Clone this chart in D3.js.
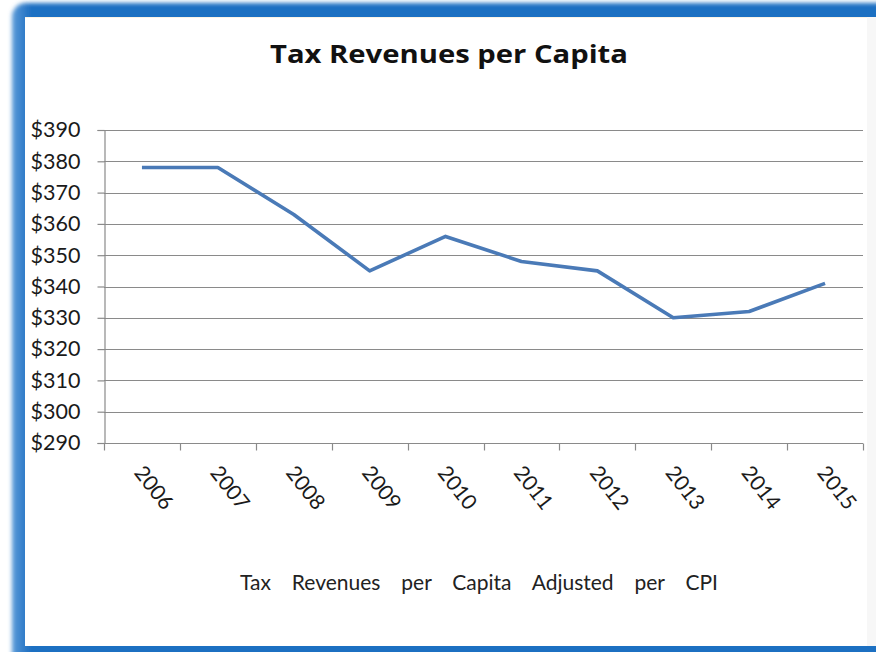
<!DOCTYPE html>
<html>
<head>
<meta charset="utf-8">
<script src="https://cdn.jsdelivr.net/npm/d3@7"></script>
<style>
  html, body { margin: 0; padding: 0; background: #ffffff; }
  svg { display: block; }
  text { font-family: Lato, "Open Sans", sans-serif; fill: #1a1a1a; }
</style>
</head>
<body>
<svg id="chart" width="876" height="652"></svg>
<script>
// Tax revenues per capita (CPI-adjusted), 2006-2015
const years = ["2006", "2007", "2008", "2009", "2010", "2011", "2012", "2013", "2014", "2015"];
const revenues = [378, 378, 363, 345, 356, 348, 345, 330, 332, 341];
const yTicks = [290, 300, 310, 320, 330, 340, 350, 360, 370, 380, 390];
const chartTitle = "Tax Revenues per Capita";
const axisTitle = "Tax Revenues per Capita Adjusted per CPI";

const W = 876, H = 652;
const svg = d3.select("#chart");
const defs = svg.append("defs");

// Soft-edged blue frame
const blur = defs.append("filter").attr("id", "soft")
  .attr("x", "-5%").attr("y", "-5%").attr("width", "110%").attr("height", "110%");
blur.append("feGaussianBlur").attr("stdDeviation", 2.2);

const gradL = defs.append("linearGradient").attr("id", "frameGrad")
  .attr("x1", "0").attr("y1", "0").attr("x2", "1").attr("y2", "0");
gradL.append("stop").attr("offset", "0").attr("stop-color", "#5a9ad8");
gradL.append("stop").attr("offset", "0.02").attr("stop-color", "#1f6fc2");
gradL.append("stop").attr("offset", "1").attr("stop-color", "#1f6fc2");

svg.append("rect")
  .attr("x", 12).attr("y", 3).attr("width", W + 40).attr("height", H - 3 + 20)
  .attr("rx", 14).attr("ry", 14)
  .attr("fill", "url(#frameGrad)")
  .attr("filter", "url(#soft)");

// Inner white panel
svg.append("rect")
  .attr("x", 25).attr("y", 17).attr("width", 842).attr("height", 629)
  .attr("fill", "#ffffff");
svg.append("rect")
  .attr("x", 867).attr("y", 17).attr("width", 9).attr("height", 629)
  .attr("fill", "#f7f7f7");
svg.append("line")
  .attr("x1", 25).attr("x2", 867).attr("y1", 17.5).attr("y2", 17.5)
  .attr("stroke", "#fbf3e6").attr("stroke-width", 1);

// Plot area
const plot = { left: 104, right: 863, top: 130, bottom: 443 };

const x = d3.scaleBand().domain(years).range([plot.left, plot.right]).padding(0);
const y = d3.scaleLinear().domain([290, 390]).range([plot.bottom, plot.top]);

// Horizontal gridlines
svg.append("g").selectAll("line")
  .data(yTicks)
  .join("line")
  .attr("x1", plot.left).attr("x2", plot.right)
  .attr("y1", d => Math.round(y(d)) + 0.5).attr("y2", d => Math.round(y(d)) + 0.5)
  .attr("stroke", "#8a8a8a").attr("stroke-width", 1.2);

// Y axis
const yAxis = d3.axisLeft(y)
  .tickValues(yTicks)
  .tickSize(7)
  .tickPadding(8)
  .tickFormat(d => "$" + d);
const gy = svg.append("g")
  .attr("transform", `translate(${plot.left + 0.5},0)`)
  .call(yAxis);
gy.select(".domain").attr("stroke", "#8a8a8a").attr("stroke-width", 1.2);
gy.selectAll(".tick line").attr("stroke", "#8a8a8a").attr("stroke-width", 1.2);
gy.selectAll(".tick text")
  .attr("x", -24)
  .style("font-size", "21.5px")
  .style("fill", "#1a1a1a");

// X axis: ticks on category boundaries
const gx = svg.append("g")
  .attr("transform", `translate(0,${Math.round(y(290)) + 0.5})`);
gx.append("line")
  .attr("x1", plot.left).attr("x2", plot.right)
  .attr("stroke", "#8a8a8a").attr("stroke-width", 1.2);
const boundaries = years.map(d => x(d)).concat([x(years[years.length - 1]) + x.bandwidth()]);
gx.selectAll("line.tk")
  .data(boundaries)
  .join("line")
  .attr("class", "tk")
  .attr("x1", d => Math.round(d) + 0.5).attr("x2", d => Math.round(d) + 0.5)
  .attr("y1", 0).attr("y2", 7)
  .attr("stroke", "#8a8a8a").attr("stroke-width", 1.2);

// Rotated category labels
svg.append("g").selectAll("text")
  .data(years)
  .join("text")
  .attr("transform", d => `translate(${x(d) + x.bandwidth() / 2 + 13},487) rotate(52)`)
  .attr("text-anchor", "middle")
  .attr("dominant-baseline", "central")
  .style("font-size", "21px")
  .text(d => d);

// Series line
const line = d3.line()
  .x((d, i) => x(years[i]) + x.bandwidth() / 2)
  .y(d => y(d));
svg.append("path")
  .datum(revenues)
  .attr("d", line)
  .attr("fill", "none")
  .attr("stroke", "#4a7ab7")
  .attr("stroke-width", 3.6)
  .attr("stroke-linejoin", "round");

// Chart title, widened horizontally to span the header
const titleLeft = 270, titleWidth = 358;
const tt = svg.append("text")
  .attr("x", 0).attr("y", 0)
  .style("font-family", "'Open Sans', Lato, sans-serif")
  .style("font-size", "25px")
  .style("font-weight", "bold")
  .style("fill", "#111")
  .text(chartTitle);
const tw = tt.node().getComputedTextLength();
tt.attr("transform", `translate(${titleLeft},63) scale(${titleWidth / tw},1)`);

// Axis title, words spread across a fixed width
const at = svg.append("text")
  .attr("x", 240).attr("y", 590)
  .style("font-size", "21px")
  .style("fill", "#222")
  .text(axisTitle);
const natural = at.node().getComputedTextLength();
const spaces = axisTitle.split(" ").length - 1;
at.style("word-spacing", ((718 - 240 - natural) / spaces) + "px");
</script>
</body>
</html>
